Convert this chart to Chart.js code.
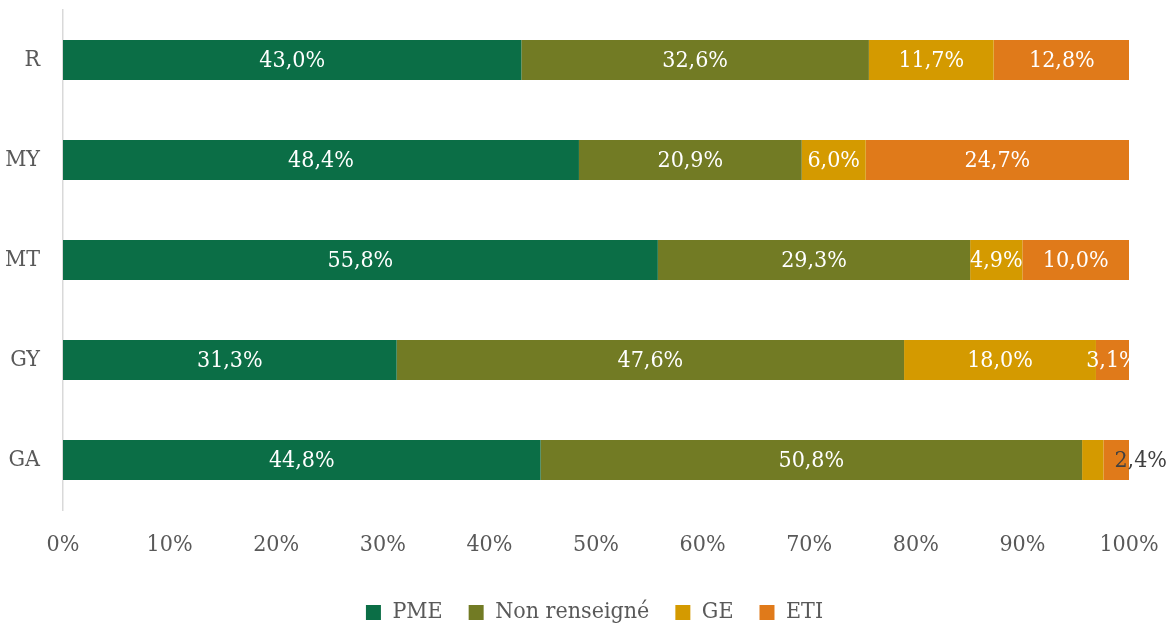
<!DOCTYPE html>
<html lang="fr">
<head>
    <meta charset="UTF-8">
    <title>Répartition par taille d'entreprise</title>
    <script src="https://cdn.jsdelivr.net/npm/chart.js@4/dist/chart.umd.min.js"></script>
    <style>
        body { margin: 0; background: #ffffff; }
        .chart-container { position: relative; width: 1171px; height: 626px; }
    </style>
</head>
<body>
    <div class="chart-container">
        <canvas id="sizeChart"></canvas>
    </div>

    <script>
        const categories = ['R', 'MY', 'MT', 'GY', 'GA'];
        const pme = [43.0, 48.4, 55.8, 31.3, 44.8];
        const nonRenseigne = [32.6, 20.9, 29.3, 47.6, 50.8];
        const ge = [11.7, 6.0, 4.9, 18.0, 2.0];
        const eti = [12.8, 24.7, 10.0, 3.1, 2.4];
        const xTicks = [0, 10, 20, 30, 40, 50, 60, 70, 80, 90, 100];

        const fontFamily = "'DejaVu Serif Condensed', 'DejaVu Serif', serif";
        const textGrey = '#595959';
        const fontSize = 23;

        // Excel hides the label of very thin segments
        const minLabelValue = 2.2;

        function fmt(v) {
            return v.toFixed(1).replace('.', ',') + '%';
        }

        // data labels drawn in the middle of each segment
        const segmentLabels = {
            id: 'segmentLabels',
            afterDatasetsDraw(chart) {
                const ctx = chart.ctx;
                const area = chart.chartArea;
                ctx.save();
                ctx.font = fontSize + 'px ' + fontFamily;
                ctx.textBaseline = 'middle';
                chart.data.datasets.forEach((ds, i) => {
                    const meta = chart.getDatasetMeta(i);
                    meta.data.forEach((bar, j) => {
                        const v = ds.data[j];
                        if (v < minLabelValue) return;
                        const props = bar.getProps(['x', 'y', 'base'], true);
                        const left = Math.min(props.x, props.base);
                        const right = Math.max(props.x, props.base);
                        ctx.save();
                        if (ds.label === 'ETI' && categories[j] === 'GA') {
                            // label pushed past the bar end, dark text
                            ctx.fillStyle = '#404040';
                            ctx.textAlign = 'left';
                            ctx.fillText(fmt(v), left + 11, props.y + 1);
                        } else {
                            ctx.beginPath();
                            ctx.rect(area.left, area.top, area.right - area.left, area.bottom - area.top);
                            ctx.clip();
                            ctx.fillStyle = '#ffffff';
                            ctx.textAlign = 'center';
                            ctx.fillText(fmt(v), (left + right) / 2, props.y + 1);
                        }
                        ctx.restore();
                    });
                });
                ctx.restore();
            }
        };

        // legend is centred under the plot area, not the whole canvas
        const legendShift = {
            id: 'legendShift',
            afterLayout(chart) {
                chart.legend.left += 30;
                chart.legend.right += 30;
            }
        };

        const ctx = document.getElementById('sizeChart').getContext('2d');

        const sizeChart = new Chart(ctx, {
            type: 'bar',
            data: {
                labels: categories,
                datasets: [
                    { label: 'PME', data: pme, backgroundColor: '#0b6e46' },
                    { label: 'Non renseigné', data: nonRenseigne, backgroundColor: '#727b24' },
                    { label: 'GE', data: ge, backgroundColor: '#d49a00' },
                    { label: 'ETI', data: eti, backgroundColor: '#e07a1a' }
                ]
            },
            options: {
                indexAxis: 'y',
                responsive: true,
                maintainAspectRatio: false,
                animation: false,
                layout: {
                    padding: { left: 0, right: 42, top: 10, bottom: -8 }
                },
                datasets: {
                    bar: {
                        categoryPercentage: 0.8,
                        barPercentage: 0.5,
                        borderWidth: 0
                    }
                },
                scales: {
                    x: {
                        stacked: true,
                        min: 0,
                        max: 100,
                        afterBuildTicks(scale) {
                            scale.ticks = xTicks.map(v => ({ value: v }));
                        },
                        afterFit(scale) {
                            scale.height = 65;
                            scale.paddingLeft = 0;
                            scale.paddingRight = 0;
                        },
                        grid: { display: false },
                        border: { display: false },
                        ticks: {
                            padding: 13,
                            color: textGrey,
                            font: { family: fontFamily, size: fontSize },
                            callback: v => v + '%'
                        }
                    },
                    y: {
                        stacked: true,
                        afterFit(scale) {
                            scale.width = 63;
                            scale.paddingTop = 0;
                            scale.paddingBottom = 0;
                        },
                        grid: { display: false },
                        border: { display: true, color: '#d9d9d9', width: 1.5 },
                        ticks: {
                            padding: 15,
                            color: textGrey,
                            font: { family: fontFamily, size: fontSize }
                        }
                    }
                },
                plugins: {
                    legend: {
                        position: 'bottom',
                        labels: {
                            boxWidth: 15,
                            boxHeight: 15,
                            padding: 26,
                            color: textGrey,
                            font: { family: fontFamily, size: fontSize }
                        }
                    },
                    tooltip: { enabled: false }
                }
            },
            plugins: [segmentLabels, legendShift]
        });
    </script>
</body>
</html>
